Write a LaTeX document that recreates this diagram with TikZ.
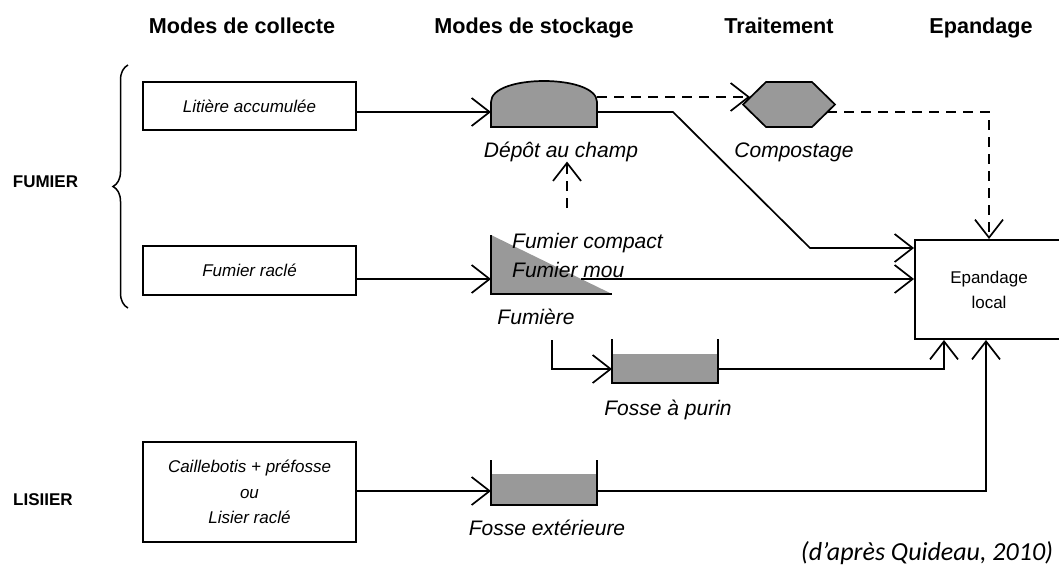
\documentclass[tikz,border=0pt]{standalone}
\usepackage{fontspec}
\setmainfont{Liberation Sans}
\newfontfamily\quidfont{Carlito}
\usepackage{tikz}
\usetikzlibrary{arrows.meta,decorations.pathreplacing,calc}

\begin{document}
\begin{tikzpicture}[x=1pt,y=-1pt,
  trait/.style={line width=1.7pt},
  flow/.style={trait,-{Straight Barb[length=18pt,width=28pt]}},
  pointille/.style={flow,dash pattern=on 10pt off 7pt},
  boite/.style={draw,line width=2pt,inner sep=0pt,align=center,font=\fontsize{17}{25.5}\selectfont\itshape},
  titre/.style={anchor=base,inner sep=0pt,font=\fontsize{21.6}{26}\selectfont\bfseries},
  etiquette/.style={anchor=base,inner sep=0pt,font=\fontsize{21}{25}\selectfont\itshape},
  groupe/.style={inner sep=0pt,font=\fontsize{17}{20}\selectfont\bfseries},
  repere/.style={inner sep=0pt,outer sep=0pt},
  cuve/.style={trait,fill=black!40}]
\useasboundingbox (0,0) rectangle (1059,571);

\node[titre] (collecte) at (242,33) {Modes de collecte};
\node[titre] (stockage) at (534,33) {Modes de stockage};
\node[titre] (traitement) at (779,33) {Traitement};
\node[titre] (epandtitre) at (981,33) {Epandage};

\node[groupe] (fumier) at (45.5,182) {FUMIER};
\node[groupe] (lisier) at (43,500) {LISIIER};
\draw[line width=1.5pt,decorate,decoration={brace,amplitude=15pt}] (128,308) -- (128,65);

\node[boite,minimum width=213pt,minimum height=48pt] (litiere) at (249.5,106) {Litière accumulée};
\node[boite,minimum width=213pt,minimum height=49pt] (raclage) at (249.5,270.5) {Fumier raclé};
\node[boite,minimum width=213pt,minimum height=100pt] (caille) at (249.5,492) {Caillebotis + préfosse\\ou\\Lisier raclé};
\node[boite,font=\fontsize{17}{25}\selectfont,minimum width=148pt,minimum height=99pt] (epandage) at (989,289.5) {Epandage\\local};

\node[repere,minimum width=106pt,minimum height=46pt] (depot) at (544,104) {};
\node[repere,minimum width=92pt,minimum height=45pt] (compost) at (789,104.5) {};
\node[repere,minimum width=121pt,minimum height=59pt] (tas) at (551.5,264.5) {};
\node[repere,minimum width=106pt,minimum height=44pt] (purin) at (665,361) {};
\node[repere,minimum width=106pt,minimum height=45pt] (exterieure) at (544,482.5) {};

\draw[cuve] (depot.south west) -- ++(0,-25) .. controls +(0,-28) and +(0,-28) .. ++(106,0) -- (depot.south east) -- cycle;
\draw[cuve] (compost.west) -- ([xshift=23pt]compost.north west) -- ([xshift=-23pt]compost.north east) -- (compost.east) -- ([xshift=-23pt]compost.south east) -- ([xshift=23pt]compost.south west) -- cycle;
\fill[black!40] (tas.north west) -- (tas.south west) -- (tas.south east) -- cycle;
\draw[trait] (tas.north west) -- (tas.south west) -- (tas.south east);
\fill[black!40] ([yshift=-15pt]purin.north west) rectangle (purin.south east);
\draw[trait] (purin.north west) -- (purin.south west) -- (purin.south east) -- (purin.north east);
\fill[black!40] ([yshift=-14pt]exterieure.north west) rectangle (exterieure.south east);
\draw[trait] (exterieure.north west) -- (exterieure.south west) -- (exterieure.south east) -- (exterieure.north east);

\node[etiquette] (depotlab) at (561,157) {Dépôt au champ};
\node[etiquette] (compostlab) at (794,157) {Compostage};
\node[etiquette] (fumierelab) at (536,324) {Fumière};
\node[etiquette] (purinlab) at (668,415) {Fosse à purin};
\node[etiquette] (extlab) at (547,535) {Fosse extérieure};

\coordinate (depot-in) at ([yshift=-8pt]depot.west);
\coordinate (depot-out) at ([yshift=-8pt]depot.east);
\coordinate (depot-top) at ([yshift=7pt]depot.east);
\coordinate (compost-in) at (750,97);
\coordinate (compost-out) at (827,112);
\coordinate (coude) at (810,248);
\coordinate (tas-in) at ([yshift=-14.5pt]tas.west);
\coordinate (tas-out) at (581,279);
\coordinate (montee) at (567,208);
\coordinate (fum-out) at (552,340);
\coordinate (purin-in) at ([yshift=-8pt]purin.west);
\coordinate (purin-out) at ([yshift=-8pt]purin.east);
\coordinate (ext-in) at ([yshift=-8.5pt]exterieure.west);
\coordinate (ext-out) at ([yshift=-8.5pt]exterieure.east);

\draw[flow] (litiere.east |- depot-in) -- (depot-in);
\draw[pointille] (depot-top) -- (compost-in);
\draw[flow] (depot-out) -- ++(76,0) -- (coude) -- (coude -| epandage.west);
\draw[pointille] (compost-out) -| (epandage.north);
\draw[flow] (raclage.east |- tas-in) -- (tas-in);
\draw[flow] (tas-out) -- (tas-out -| epandage.west);
\draw[pointille] (montee) -- (montee |- depotlab.south);
\draw[flow] (fum-out) |- (purin-in);
\draw[flow] (purin-out) -| ([xshift=30pt]epandage.south west);
\draw[flow] (caille.east |- ext-in) -- (ext-in);
\draw[flow] (ext-out) -| ([xshift=72pt]epandage.south west);

\node[etiquette,anchor=base west] (compact) at (512,248) {Fumier compact};
\node[etiquette,anchor=base west] (mou) at (512,277) {Fumier mou};

\node[inner sep=0pt,font=\fontsize{26}{30}\selectfont\quidfont\itshape] (credit) at (927,553) {(d’après Quideau, 2010)};
\end{tikzpicture}
\end{document}
